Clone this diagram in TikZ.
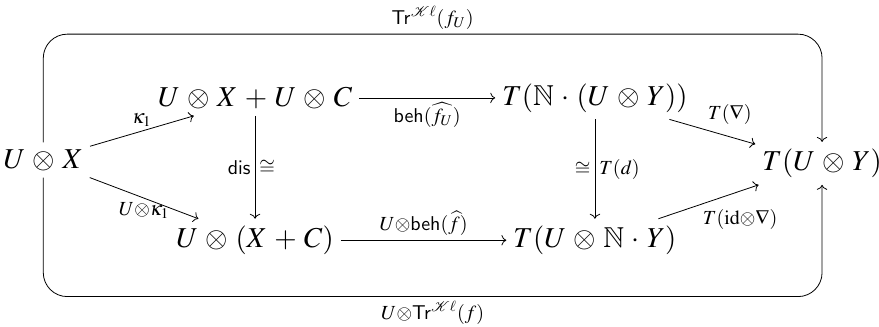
\documentclass[tikz,border=0pt]{standalone}
\usepackage{amsmath,amssymb}
\usepackage{mathptmx}
\usepackage{mathrsfs}
\usepackage{helvet}
\usepackage{tikz}
\usetikzlibrary{arrows.meta, positioning}

\begin{document}
\begin{tikzpicture}[font=\Large, >={To}, lab/.style={font=\normalsize, inner sep=2pt},
        obj/.style={execute at begin node={\medmuskip=4.6mu}}]
        \useasboundingbox (0,0) rectangle (15.44,5.73);
        % Objekte
        \node[obj] (ux) at (0.76,2.92) {$U \otimes X$};
        \node[obj] (sum) at (4.48,4.01) {$U \otimes X + U \otimes C$};
        \node[obj] (tnu) at (10.45,4.01) {$T(\mathbb{N} \cdot (U \otimes Y))$};
        \node[obj] (uxc) at (4.48,1.51) {$U \otimes (X + C)$};
        \node[obj] (tun) at (10.45,1.51) {$T(U \otimes \mathbb{N} \cdot Y)$};
        \node[obj] (tuy) at (14.44,2.86) {$T(U \otimes Y)$};
        
        % Pfeile
        \draw[->] (ux) -- node[lab, above, pos=0.5]{$\kappa_1$} (sum);
        \draw[->] (ux) -- node[lab, below, pos=0.5]{$U{\otimes}\kappa_1$} (uxc);
        \draw[->] (sum) -- node[lab, below]{$\mathsf{beh}(\widehat{f_U})$} (tnu);
        \draw[->] (uxc) -- node[lab, above]{$U{\otimes}\mathsf{beh}(\widehat{f})$} (tun);
        \draw[->] (sum) -- node[lab, left]{$\mathsf{dis}$} node[lab, right]{$\cong$} (uxc);
        \draw[->] (tnu) -- node[lab, left]{$\cong$} node[lab, right]{$T(d)$} (tun);
        \draw[->] (tnu) -- node[lab, above right, pos=0.4]{$T(\nabla)$} (tuy);
        \draw[->] (tun) -- node[lab, below right, pos=0.4]{$T(\mathrm{id}{\otimes}\nabla)$} (tuy);
        
        % Schleifen
        \coordinate (tl) at (0.76,5.13);
        \coordinate (tr) at (14.44,5.13);
        \coordinate (bl) at (0.76,0.52);
        \coordinate (br) at (14.44,0.52);
        \draw[->, rounded corners=12pt] (ux) -- (tl) -- node[lab, above]{$\mathsf{Tr}^{\mathscr{K}\ell}(f_U)$} (tr) -- (tuy);
        \draw[->, rounded corners=12pt] (ux) -- (bl) -- node[lab, below]{$U{\otimes}\mathsf{Tr}^{\mathscr{K}\ell}(f)$} (br) -- (tuy);
    \end{tikzpicture}
\end{document}
